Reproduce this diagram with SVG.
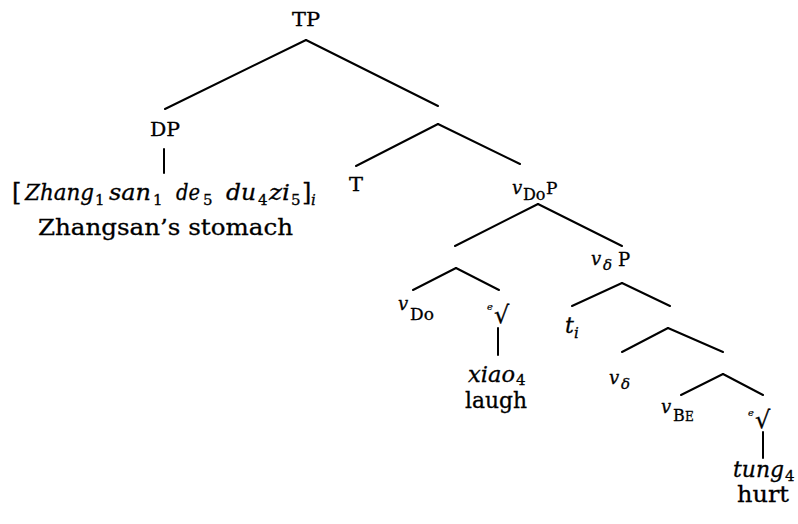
<svg xmlns="http://www.w3.org/2000/svg" width="798" height="524" viewBox="0 0 798 524">
<style>
text{font-family:"DejaVu Serif","Liberation Serif",serif;fill:#000;stroke:#000;stroke-width:0.3}
.lab{font-size:18px}
.it{font-style:italic}
.big{font-size:22px}
.sub{font-size:15px}
.v{font-size:18px;font-style:italic}
.rt{font-family:"DejaVu Sans","DejaVu Serif",sans-serif;font-size:24px}
.re{font-size:10px;font-style:italic;stroke-width:0.2}
#edges line{stroke:#000;stroke-width:2;stroke-linecap:round}
</style>
<rect width="798" height="524" fill="#fff"/>
<g id="edges">
<line x1="306" y1="40" x2="165" y2="109"/>
<line x1="306" y1="40" x2="438" y2="106"/>
<line x1="438" y1="124" x2="356" y2="166"/>
<line x1="438" y1="124" x2="520" y2="164"/>
<line x1="164" y1="149" x2="164" y2="173"/>
<line x1="538" y1="204" x2="455" y2="246"/>
<line x1="538" y1="204" x2="622" y2="246"/>
<line x1="456" y1="268" x2="413" y2="290"/>
<line x1="456" y1="268" x2="499" y2="290"/>
<line x1="498" y1="328" x2="498" y2="355"/>
<line x1="622" y1="283" x2="572" y2="306"/>
<line x1="622" y1="283" x2="670" y2="306"/>
<line x1="668" y1="328" x2="622" y2="352"/>
<line x1="668" y1="328" x2="723" y2="352"/>
<line x1="723" y1="374" x2="681" y2="395"/>
<line x1="723" y1="374" x2="763" y2="395"/>
<line x1="763" y1="432" x2="763" y2="458"/>
</g>
<g id="n-TP"><text class="lab" x="306" y="26" text-anchor="middle" textLength="28" lengthAdjust="spacingAndGlyphs">TP</text></g>
<g id="n-DP"><text class="lab" x="165" y="136" text-anchor="middle" textLength="30" lengthAdjust="spacingAndGlyphs">DP</text></g>
<g id="n-DPtext">
<text class="big"><tspan x="12" y="200" font-size="24">[</tspan><tspan class="it" x="25" y="200" textLength="69" lengthAdjust="spacingAndGlyphs">Zhang</tspan><tspan class="sub" x="95" y="205">1</tspan><tspan class="it" x="109" y="200" textLength="42" lengthAdjust="spacingAndGlyphs">san</tspan><tspan class="sub" x="153" y="205">1</tspan><tspan class="it" x="176" y="200" textLength="24" lengthAdjust="spacingAndGlyphs">de</tspan><tspan class="sub" x="203" y="205">5</tspan><tspan class="it" x="226" y="200" textLength="30" lengthAdjust="spacingAndGlyphs">du</tspan><tspan class="sub" x="258" y="205">4</tspan><tspan class="it" x="269" y="200" textLength="21" lengthAdjust="spacingAndGlyphs">zi</tspan><tspan class="sub" x="291" y="205">5</tspan><tspan x="302" y="200" font-size="24">]</tspan><tspan class="sub it" x="311" y="205">i</tspan></text>
<text class="big" x="38" y="235" textLength="255" lengthAdjust="spacingAndGlyphs">Zhangsan’s stomach</text>
</g>
<g id="n-T"><text class="lab" x="356" y="191" text-anchor="middle" textLength="14" lengthAdjust="spacingAndGlyphs">T</text></g>
<g id="n-vDoP"><text><tspan class="v" x="512" y="194">v</tspan><tspan font-size="16" x="523" y="200">Do</tspan><tspan font-size="17" x="546" y="194">P</tspan></text></g>
<g id="n-vDo"><text><tspan class="v" x="398" y="310">v</tspan><tspan font-size="17" x="410" y="320">Do</tspan></text></g>
<g id="n-root1"><text><tspan class="re" x="487" y="310">e</tspan><tspan class="rt" x="494" y="323">√</tspan></text></g>
<g id="n-xiao"><text class="big"><tspan class="it" x="468" y="382" textLength="47" lengthAdjust="spacingAndGlyphs">xiao</tspan><tspan class="sub" x="516" y="385">4</tspan></text>
<text class="big" x="465" y="408" textLength="62" lengthAdjust="spacingAndGlyphs">laugh</text></g>
<g id="n-vdP"><text><tspan class="v" x="591" y="265">v</tspan><tspan class="it" font-size="15" x="603" y="270">δ</tspan><tspan font-size="18" x="618" y="266">P</tspan></text></g>
<g id="n-ti"><text><tspan class="big it" x="565" y="333">t</tspan><tspan class="sub it" x="574" y="338">i</tspan></text></g>
<g id="n-vd"><text><tspan class="v" x="609" y="384">v</tspan><tspan class="it" font-size="15" x="621" y="389">δ</tspan></text></g>
<g id="n-vBe"><text><tspan class="v" x="661" y="413">v</tspan><tspan font-size="16" x="673" y="421">B</tspan><tspan font-size="12" x="685" y="421">E</tspan></text></g>
<g id="n-root2"><text><tspan class="re" x="748" y="416">e</tspan><tspan class="rt" x="755" y="428">√</tspan></text></g>
<g id="n-tung"><text class="big"><tspan class="it" x="733" y="477" textLength="51" lengthAdjust="spacingAndGlyphs">tung</tspan><tspan class="sub" x="785" y="481">4</tspan></text>
<text class="big" x="737" y="502" textLength="52" lengthAdjust="spacingAndGlyphs">hurt</text></g>
</svg>
